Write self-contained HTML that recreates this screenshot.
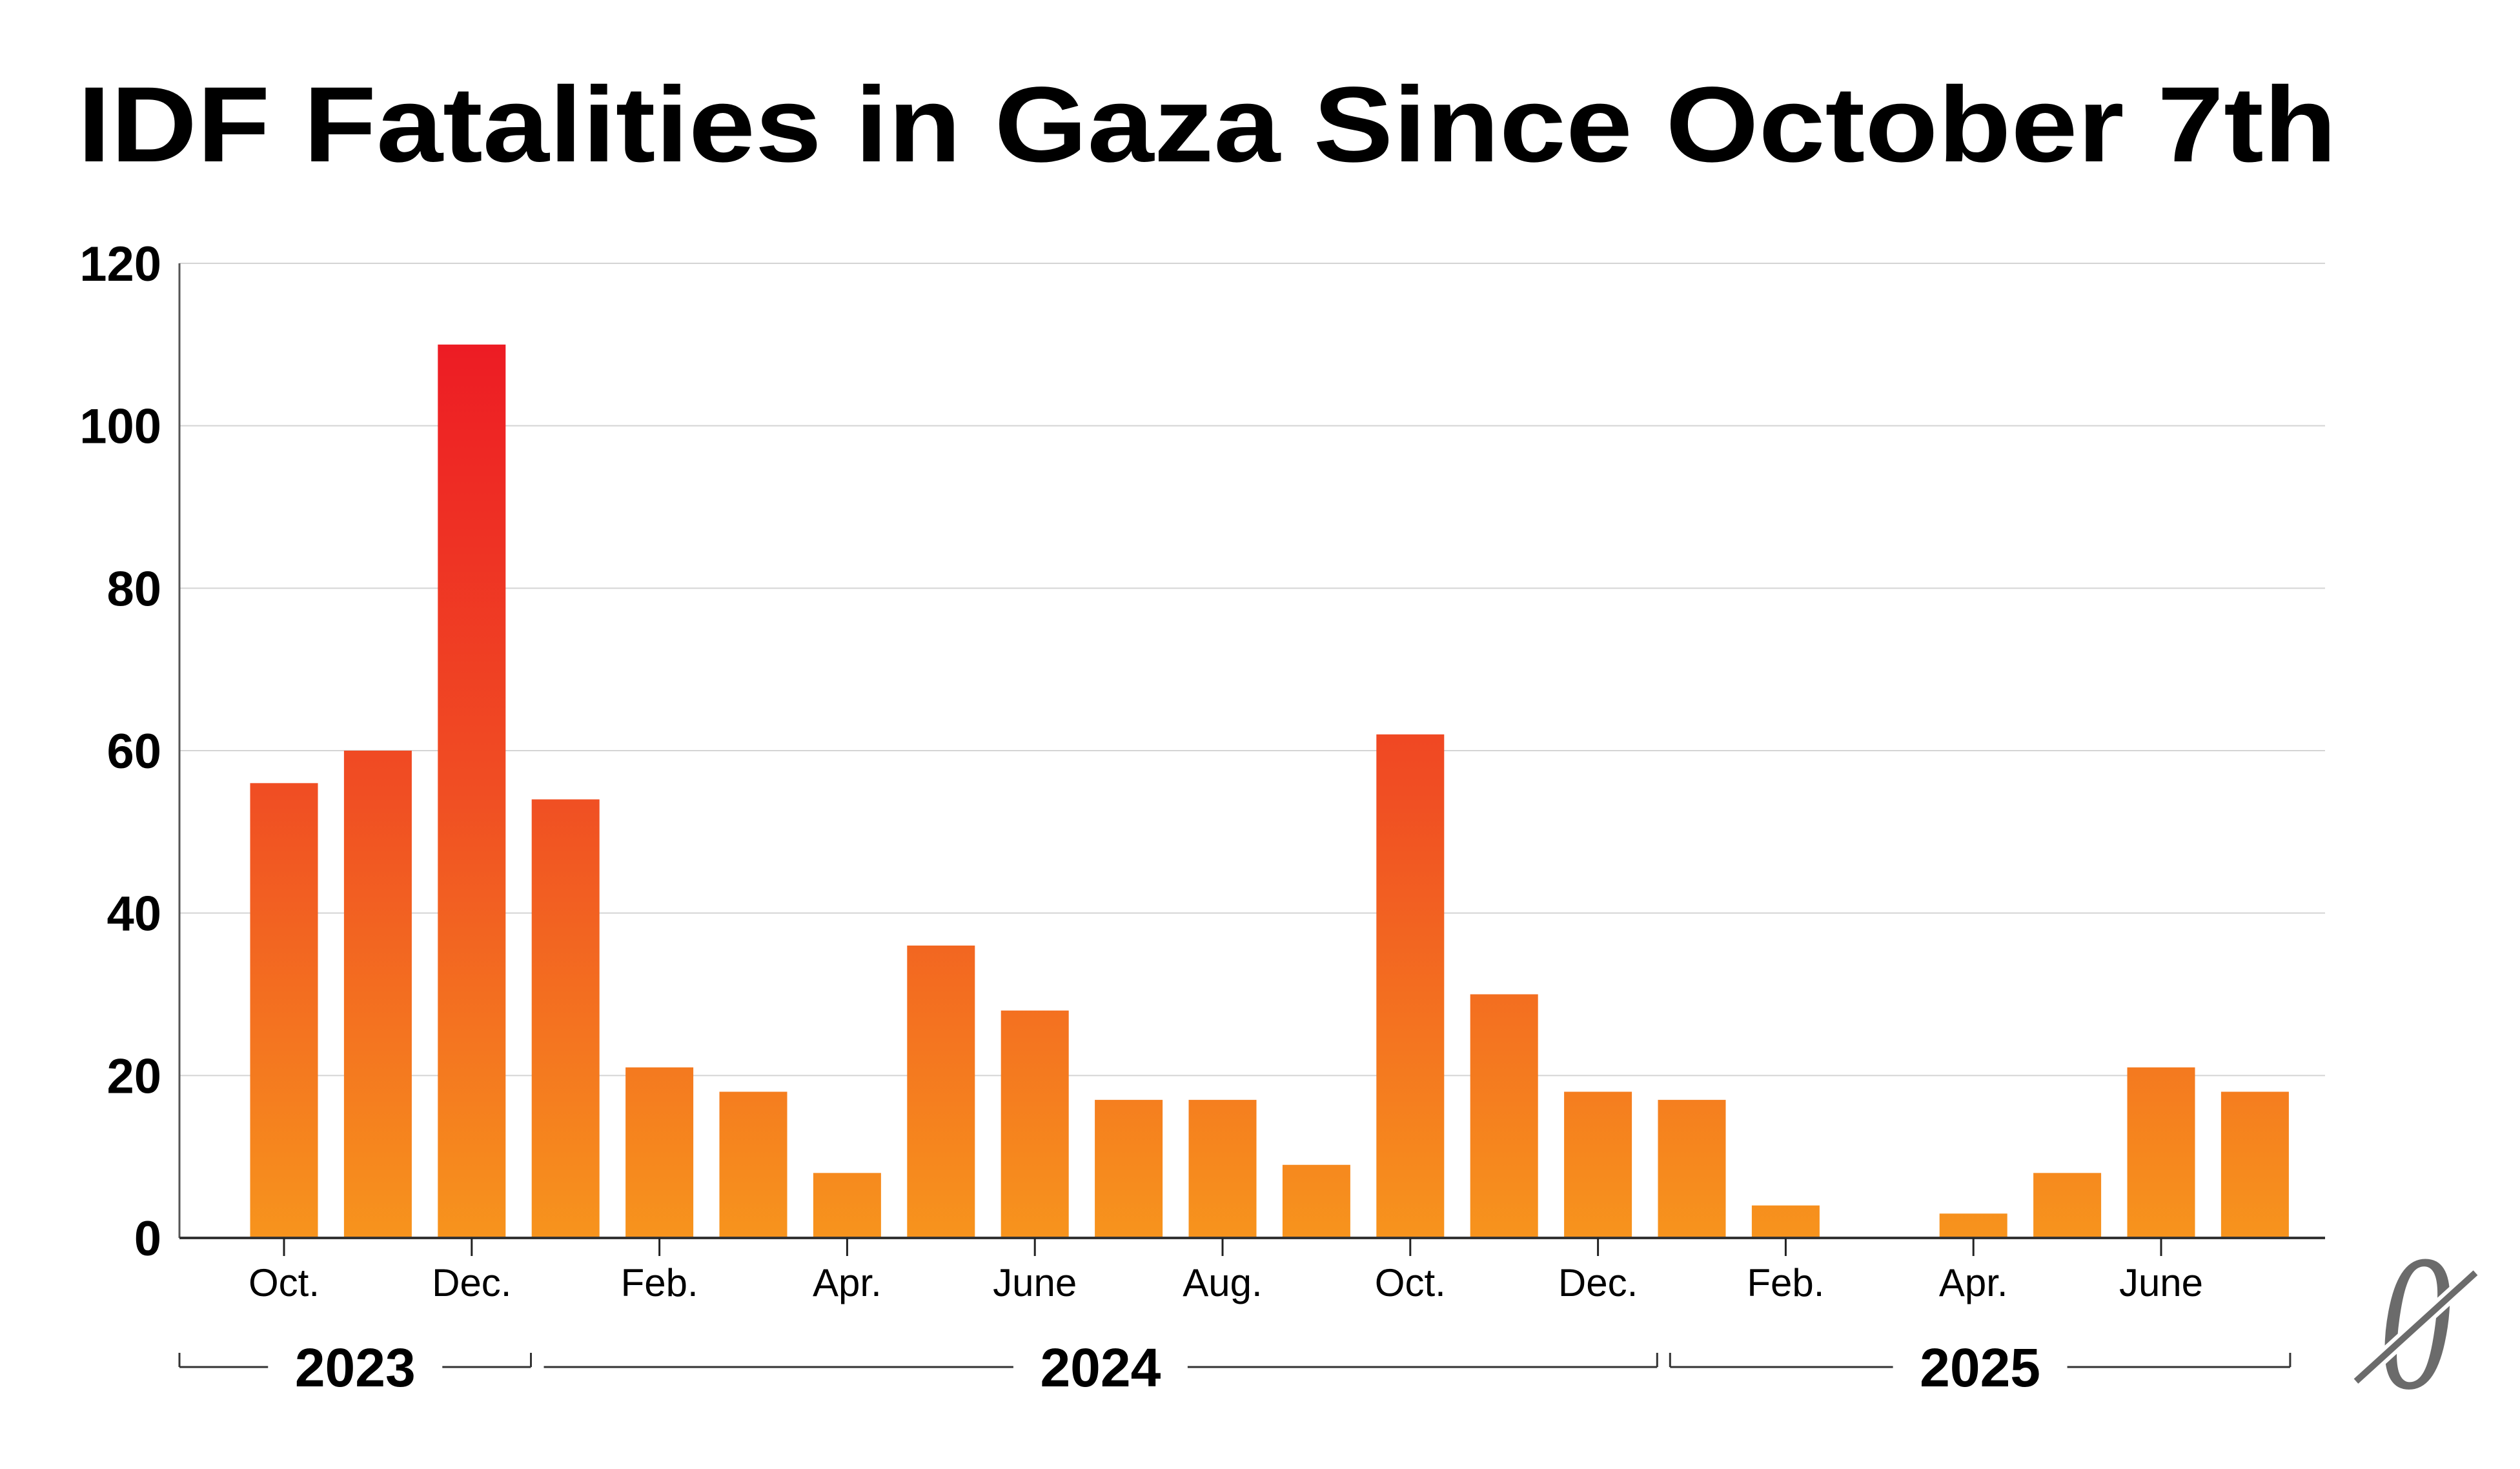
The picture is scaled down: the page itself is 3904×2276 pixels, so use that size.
<!DOCTYPE html>
<html><head><meta charset="utf-8"><style>
html,body{margin:0;padding:0;background:#fff;}
svg{display:block;font-family:"Liberation Sans",sans-serif;}
</style></head><body>
<svg id="chart" width="3904" height="2276" viewBox="0 0 3904 2276" xmlns="http://www.w3.org/2000/svg">
<defs>
<linearGradient id="barGrad" gradientUnits="userSpaceOnUse" x1="0" y1="1918" x2="0" y2="536">
<stop offset="0" stop-color="#F7941D"/>
<stop offset="0.5" stop-color="#F04E23"/>
<stop offset="1" stop-color="#ED1C24"/>
</linearGradient>
</defs>
<text x="120" y="250" font-size="166" font-weight="bold" textLength="3500" lengthAdjust="spacingAndGlyphs">IDF Fatalities in Gaza Since October 7th</text>
<g id="grid"></g>
<g id="bars"></g>
<g id="axes"></g>
<g>
<text x="3742" y="2150" font-family="Liberation Serif,serif" font-style="italic" font-size="300" fill="#6b6b6b" text-anchor="middle" transform="translate(3742 2050) scale(0.75 1) translate(-3742 -2050)">0</text>
<line x1="3650" y1="2140" x2="3835" y2="1972" stroke="#fff" stroke-width="22"/>
<line x1="3650" y1="2140" x2="3835" y2="1972" stroke="#6b6b6b" stroke-width="10"/>
</g>
</svg>
<script>
const months = ["Oct.","Nov.","Dec.","Jan.","Feb.","Mar.","Apr.","May","June","July","Aug.","Sep.","Oct.","Nov.","Dec.","Jan.","Feb.","Mar.","Apr.","May","June","July"];
const fatalities = [56,60,110,54,21,18,8,36,28,17,17,9,62,30,18,17,4,0,3,8,21,18];
const yTicks = [0,20,40,60,80,100,120];
const years = ["2023","2024","2025"];
const yearStartIdx = [0,3,15];
const yearEndIdx = [2,14,21];

const NS = "http://www.w3.org/2000/svg";
const X0 = 278, X1 = 3602, Y0 = 1918, YTOP = 408, YMAX = 120;
const FIRST = 440, STEP = 145.4, BW = 105;
const y = v => Y0 - (v / YMAX) * (Y0 - YTOP);
const xc = i => FIRST + i * STEP;
function mk(tag, attrs, parent){const e=document.createElementNS(NS,tag);for(const k in attrs)e.setAttribute(k,attrs[k]);parent.appendChild(e);return e;}
const grid=document.getElementById('grid'), bars=document.getElementById('bars'), axes=document.getElementById('axes');

yTicks.forEach(t=>{
  if(t>0){const g=mk('line',{x1:X0,x2:X1,y1:y(t),y2:y(t),stroke:'#d4d4d4','stroke-width':2},grid);
  
  }
  const l=mk('text',{x:250,y:y(t)+27,'font-size':76,'font-weight':'bold','text-anchor':'end'},axes);
  l.textContent=t;
  
  
});

fatalities.forEach((v,i)=>{
  if(v<=0) return;
  const r=mk('rect',{x:xc(i)-BW/2,y:y(v),width:BW,height:Y0-y(v),fill:'url(#barGrad)'},bars);
  
  
});

const ya=mk('line',{x1:X0,x2:X0,y1:YTOP,y2:Y0,stroke:'#555','stroke-width':3},axes);


const xa=mk('line',{x1:X0,x2:X1,y1:Y0,y2:Y0,stroke:'#333','stroke-width':4},axes);



months.forEach((m,i)=>{
  if(i%2!==0) return;
  const tk=mk('line',{x1:xc(i),x2:xc(i),y1:Y0,y2:Y0+28,stroke:'#222','stroke-width':3},axes);
  
  
  const t=mk('text',{x:xc(i),y:2008,'font-size':60,'text-anchor':'middle'},axes);
  t.textContent=m;
  
  
});

const BY=2118;
years.forEach((yr,k)=>{
  const a=k===0?X0:xc(yearStartIdx[k])-STEP/2+39;
  const b=k===2?xc(yearEndIdx[k])+BW/2+2:xc(yearEndIdx[k])+STEP/2+19;
  const mid=(a+b)/2, gap=135;
  const g=mk('g',{},axes);
  
  
  mk('line',{x1:a,x2:mid-gap,y1:BY,y2:BY,stroke:'#333','stroke-width':3},g);
  mk('line',{x1:mid+gap,x2:b,y1:BY,y2:BY,stroke:'#333','stroke-width':3},g);
  if(k!==1){mk('line',{x1:a,x2:a,y1:BY-22,y2:BY,stroke:'#333','stroke-width':3},g);
  mk('line',{x1:b,x2:b,y1:BY-22,y2:BY,stroke:'#333','stroke-width':3},g);}
  else{mk('line',{x1:b,x2:b,y1:BY-22,y2:BY,stroke:'#333','stroke-width':3},g);}
  const t=mk('text',{x:mid,y:BY+30,'font-size':84,'font-weight':'bold','text-anchor':'middle'},g);
  t.textContent=yr;
});
</script>
</body></html>
